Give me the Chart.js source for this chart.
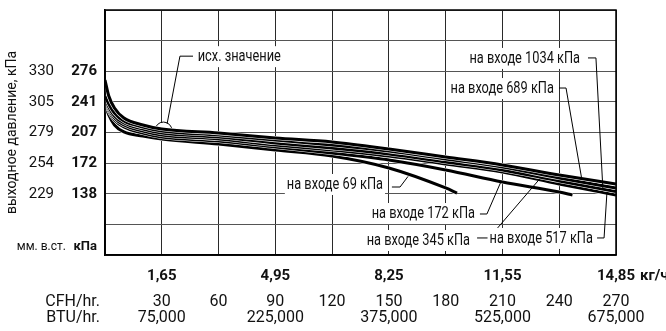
<!DOCTYPE html>
<html>
<head>
<meta charset="utf-8">
<script src="https://cdn.jsdelivr.net/npm/chart.js@4/dist/chart.umd.min.js"></script>
<style>
html, body { margin: 0; padding: 0; background: #fff; }
</style>
</head>
<body>
<canvas id="chart" width="666" height="331"></canvas>
<script>
// расход, CFH (ось X)
const flowCfh = [0, 2, 5, 10, 20, 30, 60, 90, 120, 150, 180, 210, 240, 270];
const flow172 = [0, 2, 5, 10, 20, 30, 60, 90, 120, 150, 180, 210, 240, 247];
const flow69  = [0, 2, 5, 10, 20, 30, 60, 90, 120, 150, 180, 186];

// выходное давление, кПа
const out1034 = [266.1, 248.1, 234.6, 223.3, 215.5, 210.9, 206.4, 200.8, 196.3, 188.4, 179.4, 170.4, 159.1, 149.0];
const out689  = [248.1, 239.1, 228.9, 219.9, 213.2, 208.7, 204.2, 198.5, 192.9, 186.1, 177.1, 168.1, 155.7, 144.5];
const out345  = [245.9, 235.7, 225.6, 217.7, 210.9, 206.4, 201.9, 195.2, 189.5, 182.8, 173.8, 164.8, 152.4, 140.6];
const out517  = [243.6, 233.5, 223.3, 215.5, 208.7, 204.2, 199.7, 192.9, 187.3, 180.5, 171.5, 162.5, 149.0, 136.6];
const out172  = [241.4, 231.2, 221.1, 213.2, 206.4, 201.9, 197.4, 190.7, 183.9, 176.0, 164.8, 151.2, 140.0, 136.6];
const out69   = [239.1, 226.7, 215.5, 207.6, 203.1, 199.7, 194.0, 187.3, 180.5, 167.0, 144.5, 138.8];

// подписи осей
const kpaTicks   = [78, 138, 172.5, 207, 241.5, 276];
const kpaLabels  = ['кПа', '138', '172', '207', '241', '276'];
const mmLabels   = ['мм. в.ст.', '229', '254', '279', '305', '330'];
const kgTicks    = [30, 90, 150, 210, 270];
const kgLabels   = ['1,65', '4,95', '8,25', '11,55', '14,85'];
const cfhTicks   = [30, 60, 90, 120, 150, 180, 210, 240, 270];
const cfhLabels  = ['30', '60', '90', '120', '150', '180', '210', '240', '270'];
const btuTicks   = [30, 90, 150, 210, 270];
const btuLabels  = ['75,000', '225,000', '375,000', '525,000', '675,000'];

const FONT = 'Roboto, "Noto Sans", sans-serif';

const curves = [
	{ name: '1034', x: flowCfh, y: out1034 },
	{ name: '689', x: flowCfh, y: out689 },
	{ name: '345', x: flowCfh, y: out345 },
	{ name: '517', x: flowCfh, y: out517 },
	{ name: '172', x: flow172, y: out172 },
	{ name: '69', x: flow69, y: out69 },
];

// выноски: точки в единицах данных (CFH, кПа)
const refCircle = [30.9, 209.2];
const notes = [
	{ text: 'исх. значение', align: 'left', at: [49, 293], path: [[46.5, 293], [39.6, 293], [32.8, 216.6]] },
	{ text: 'на входе 1034 кПа', align: 'right', at: [251, 291], path: [[255.2, 291], [259.4, 291], [263.1, 142.2]] },
	{ text: 'на входе 689 кПа', align: 'right', at: [237.2, 257.1], path: [[239.9, 257.1], [243.6, 257.1], [252, 153.5]] },
	{ text: 'на входе 69 кПа', align: 'right', at: [146.9, 149], path: [[151.6, 145.6], [155.9, 145.6], [160.1, 157.5]] },
	{ text: 'на входе 172 кПа', align: 'right', at: [195.5, 116.3], path: [[198.1, 115.2], [201.8, 115.2], [209.2, 151.5]] },
	{ text: 'на входе 345 кПа', align: 'right', at: [192.9, 85.9], path: [[196.6, 88.2], [202.9, 88.2], [229.8, 155]] },
	{ text: 'на входе 517 кПа', align: 'right', at: [257.8, 88.2], path: [[260, 88.2], [263.7, 88.2], [265.2, 139]] },
];

let datasets = [];
curves.forEach(function (c) {
	let pts = c.x.map((v, i) => ({ x: v, y: c.y[i] }));
	datasets.push({
		label: c.name, data: pts, borderColor: '#000', borderWidth: 3,
		pointRadius: 0, cubicInterpolationMode: 'monotone', fill: false,
	});
	datasets.push({
		label: c.name + ' фон', data: pts, borderColor: '#fff', borderWidth: 4.2,
		pointRadius: 0, cubicInterpolationMode: 'monotone', fill: false,
	});
});

function fixedWidth(w) {
	return function (scale) {
		scale.width = w;
		scale.paddingTop = 0;
		scale.paddingBottom = 0;
	};
}
function fixedHeight(h) {
	return function (scale) {
		scale.height = h;
		scale.paddingLeft = 0;
		scale.paddingRight = 0;
	};
}
function setTicks(values) {
	return function (scale) {
		scale.ticks = values.map(v => ({ value: v }));
	};
}
function labelAxis(values, labels, weight, size, bold, padding, height) {
	return {
		type: 'linear', position: 'bottom', min: 0, max: 270, weight: weight,
		grid: { display: false }, border: { display: false },
		afterBuildTicks: setTicks(values),
		afterFit: fixedHeight(height),
		ticks: {
			autoSkip: false, maxRotation: 0, padding: padding, color: '#111',
			font: { family: FONT, size: size, weight: bold ? 'bold' : 'normal' },
			callback: (v, i) => labels[i],
		},
	};
}
function rowCenter(scale) {
	const it = scale.getLabelItems(scale.chart.chartArea)[0];
	return { y: it.options.translation[1] + it.textOffset, baseline: it.options.textBaseline };
}

const notesPlugin = {
	id: 'notes',
	beforeDatasetsDraw(chart) {
		const { ctx, scales: { x, y } } = chart;
		ctx.save();
		ctx.beginPath();
		ctx.arc(x.getPixelForValue(refCircle[0]), y.getPixelForValue(refCircle[1]), 8.5, 0, Math.PI * 2);
		ctx.fillStyle = '#fff';
		ctx.fill();
		ctx.lineWidth = 1;
		ctx.strokeStyle = '#000';
		ctx.stroke();
		ctx.restore();
	},
	afterDatasetsDraw(chart) {
		const { ctx, chartArea: a, scales: { x, y } } = chart;
		const squeeze = 0.8;
		ctx.save();
		ctx.font = '16px ' + FONT;
		ctx.textBaseline = 'middle';
		notes.forEach(function (n) {
			const px = x.getPixelForValue(n.at[0]);
			const py = y.getPixelForValue(n.at[1]);
			const w = ctx.measureText(n.text).width * squeeze;
			const left = n.align === 'left' ? px : px - w;
			ctx.fillStyle = '#fff';
			ctx.fillRect(left - 2, py - 10, w + 4, 21);
			ctx.save();
			ctx.translate(left, py + 1);
			ctx.scale(squeeze, 1);
			ctx.fillStyle = '#111';
			ctx.textAlign = 'left';
			ctx.fillText(n.text, 0, 0);
			ctx.restore();
			ctx.beginPath();
			n.path.forEach(function (p, i) {
				const qx = x.getPixelForValue(p[0]), qy = y.getPixelForValue(p[1]);
				if (i === 0) ctx.moveTo(qx, qy); else ctx.lineTo(qx, qy);
			});
			ctx.lineWidth = 1;
			ctx.strokeStyle = '#000';
			ctx.stroke();
		});
		// рамка
		ctx.lineWidth = 1.5;
		ctx.strokeStyle = '#000';
		ctx.strokeRect(a.left, a.top, a.right - a.left, a.bottom - a.top);
		ctx.restore();
	},
	afterDraw(chart) {
		const { ctx, chartArea: a, scales } = chart;
		ctx.save();
		ctx.fillStyle = '#111';
		ctx.textAlign = 'right';
		ctx.font = '16px ' + FONT;
		let r = rowCenter(scales.xc);
		ctx.textBaseline = r.baseline;
		ctx.fillText('CFH/hr.', a.left - 5, r.y);
		r = rowCenter(scales.xb);
		ctx.fillText('BTU/hr.', a.left - 5, r.y);
		// единица кг/ч после последней подписи
		ctx.font = 'bold 15px ' + FONT;
		const xk = scales.xk;
		const last = kgLabels[kgLabels.length - 1];
		const lx = xk.getPixelForValue(kgTicks[kgTicks.length - 1]) + ctx.measureText(last).width / 2 + 5;
		r = rowCenter(xk);
		ctx.textAlign = 'left';
		ctx.fillText('кг/ч', lx, r.y);
		ctx.restore();
	},
};

new Chart(document.getElementById('chart'), {
	type: 'line',
	data: { datasets: datasets },
	plugins: [notesPlugin],
	options: {
		responsive: false,
		animation: false,
		events: [],
		layout: { padding: { top: 10, right: 50, bottom: 0, left: 0 } },
		plugins: { legend: { display: false }, tooltip: { enabled: false } },
		scales: {
			x: {
				type: 'linear', position: 'bottom', min: 0, max: 270, weight: 0,
				grid: { color: '#2a2a2a', lineWidth: 1, drawTicks: false },
				border: { color: '#000', width: 1.5 },
				ticks: { display: false, stepSize: 30 },
				afterFit: fixedHeight(0),
			},
			xk: labelAxis(kgTicks, kgLabels, 1, 15, true, 4, 28),
			xc: labelAxis(cfhTicks, cfhLabels, 2, 16, false, 1, 24),
			xb: labelAxis(btuTicks, btuLabels, 3, 16, false, -7, 24),
			y: {
				type: 'linear', position: 'left', min: 69, max: 345, weight: 0,
				grid: { color: '#555', lineWidth: 1, drawTicks: false },
				border: { color: '#000', width: 1.5 },
				ticks: { display: false, stepSize: 34.5 },
				afterFit: fixedWidth(0),
			},
			yk: {
				type: 'linear', position: 'left', min: 69, max: 345, weight: 1,
				grid: { display: false }, border: { display: false },
				afterBuildTicks: setTicks(kpaTicks),
				afterFit: fixedWidth(40),
				ticks: {
					autoSkip: false, padding: 0, color: '#111',
					font: (c) => ({ family: FONT, size: c.index === 0 ? 13 : 15, weight: 'bold' }),
					callback: (v, i) => kpaLabels[i],
				},
			},
			ym: {
				type: 'linear', position: 'left', min: 69, max: 345, weight: 2,
				grid: { display: false }, border: { display: false },
				afterBuildTicks: setTicks(kpaTicks),
				afterFit: fixedWidth(65),
				title: {
					display: true, text: 'выходное давление, кПа', color: '#111',
					font: { family: FONT, size: 14 }, padding: { top: 4, bottom: 0 },
				},
				ticks: {
					autoSkip: false, padding: -9, crossAlign: 'center', color: '#111',
					font: (c) => ({ family: FONT, size: c.index === 0 ? 12 : 15 }),
					callback: (v, i) => mmLabels[i],
				},
			},
		},
	},
});
</script>
</body>
</html>
